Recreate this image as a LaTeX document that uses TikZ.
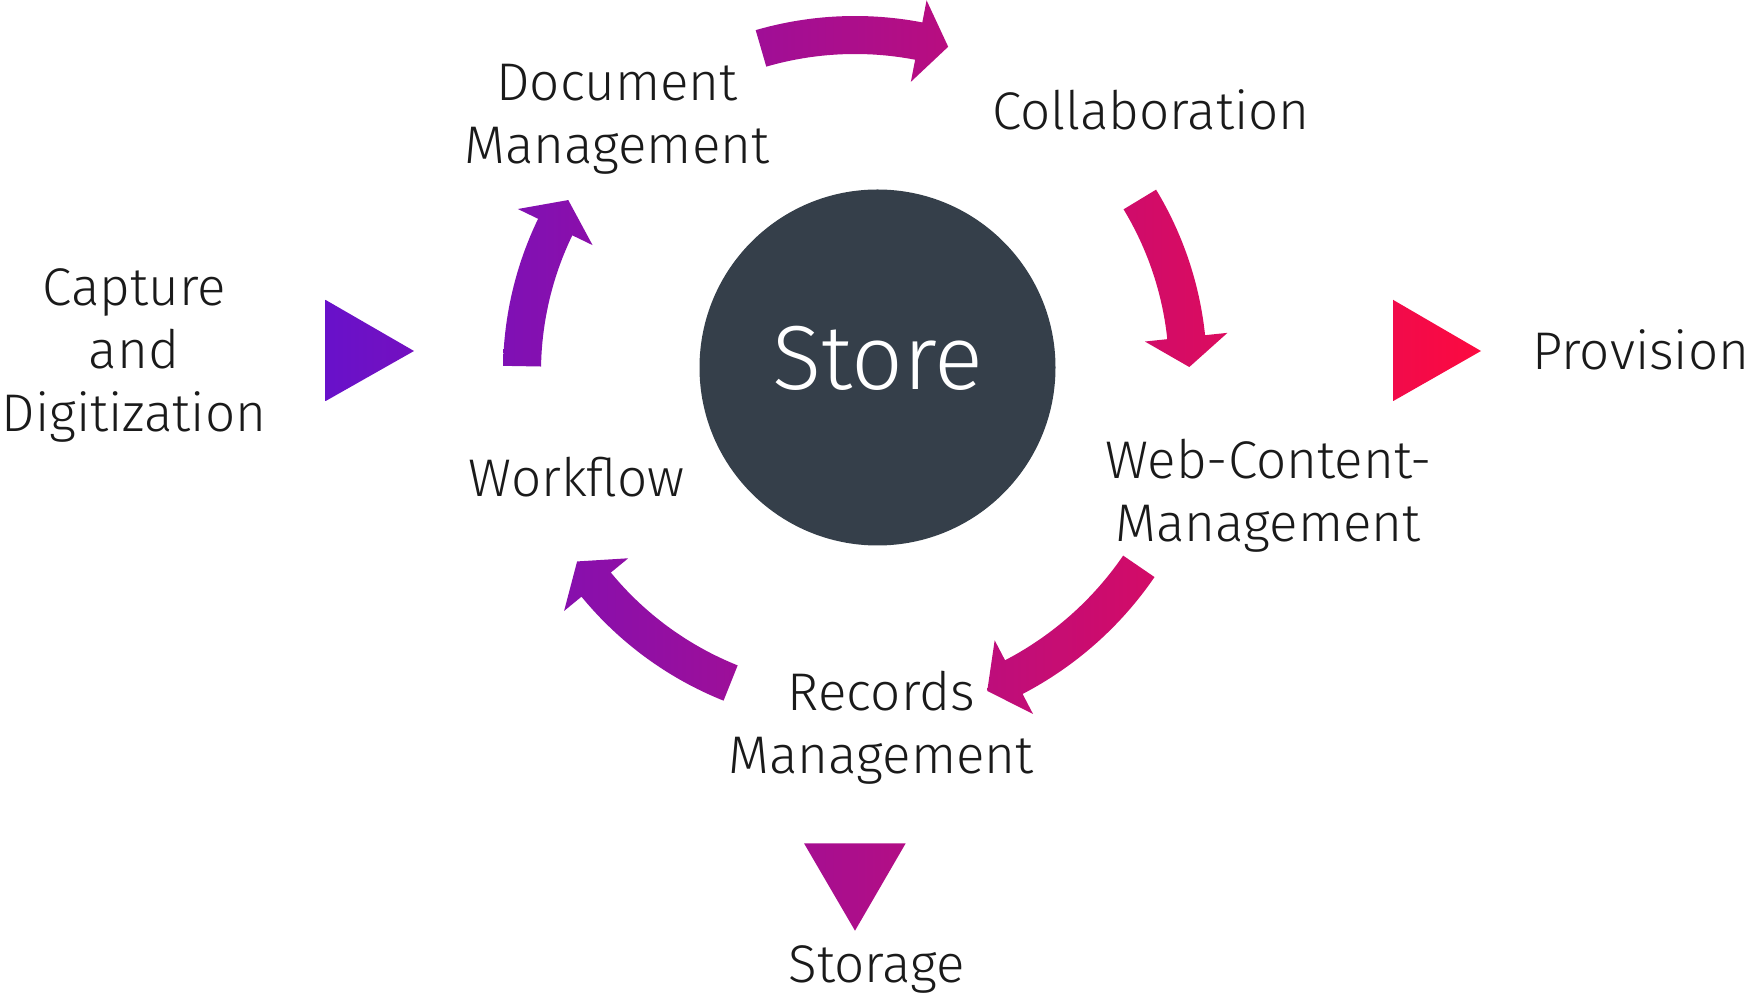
\documentclass[tikz,border=0pt]{standalone}
\usepackage{fontspec}
\setmainfont{Fira Sans}[UprightFont=* Light]
\definecolor{flowpurple}{RGB}{101, 17, 205}
\definecolor{flowred}{RGB}{255, 10, 62}
\definecolor{storeslate}{RGB}{53, 63, 74}
\definecolor{labelblack}{RGB}{26, 26, 26}
\usetikzlibrary{calc, positioning}

\newcommand{\ringarrow}[3]{($(ring)+({#1}:{#3+19})$) arc[start angle=#1, end angle=#2, radius={(#3+19)*1pt}] -- ($(ring)+({#2}:{#3+41.5})$) -- ($(ring)+({#2}:{#3})+({#2-90}:30)$) -- ($(ring)+({#2}:{#3-41.5})$) -- ($(ring)+({#2}:{#3-19})$) arc[start angle=#2, end angle=#1, radius={(#3-19)*1pt}] -- cycle}
\newcommand{\gradfill}[1]{\begin{scope}\clip #1; \shade [left color=flowpurple, right color=flowred] (300,0) rectangle (1500,996); \end{scope}}

\begin{document}
\begin{tikzpicture}[x=1pt, y=1pt, stagetext/.style={align=center, text=labelblack, inner sep=0pt, font=\fontsize{53}{63}\selectfont}]
        \useasboundingbox (0,0) rectangle (1749,996);
        \node [circle, fill=storeslate, minimum size=356pt, inner sep=0pt] (store) at (877.5, 628.5) {};
        \node [anchor=base, inner sep=0pt, text=white, font=\fontsize{91}{91}\selectfont] (storename) at ([yshift=-21.8pt]store.center) {Store};
        \coordinate (ring) at ([xshift=-22.5pt, yshift=-4.5pt]store.center);

        \node [stagetext, anchor=base] (docmgmt) at (617, 832) {Document\\Management};
        \node [stagetext, anchor=base] (collab) at (1151, 866) {Collaboration};
        \node [stagetext, anchor=base] (capture) at (134, 564.3) {Capture\\and\\Digitization};
        \node [stagetext, anchor=base] (workflow) at (576.7, 499.3) {Workflow};
        \node [stagetext, anchor=base] (webcm) at (1268.3, 454.3) {Web-Content-\\Management};
        \node [stagetext, anchor=base] (records) at (881.3, 222) {Records\\Management};
        \node [stagetext, anchor=base] (storage) at (876.7, 13) {Storage};
        \node [stagetext, anchor=base] (provision) at (1641, 626) {Provision};

        \gradfill{(325.7,696) -- (325.7,595) -- (414,645) -- cycle}
        \gradfill{(1393.3,696) -- (1393.3,595) -- (1481,645) -- cycle}
        \gradfill{(804,152.7) -- (905.7,152.7) -- (855,65.3) -- cycle}

        \gradfill{\ringarrow{179}{154.2}{333}}
        \gradfill{\ringarrow{106.2}{79.1}{337}}
        \gradfill{\ringarrow{31.2}{6}{333}}
        \gradfill{\ringarrow{-34.4}{-62.5}{344}}
        \gradfill{\ringarrow{-111.8}{-140.6}{335}}
    \end{tikzpicture}
\end{document}
